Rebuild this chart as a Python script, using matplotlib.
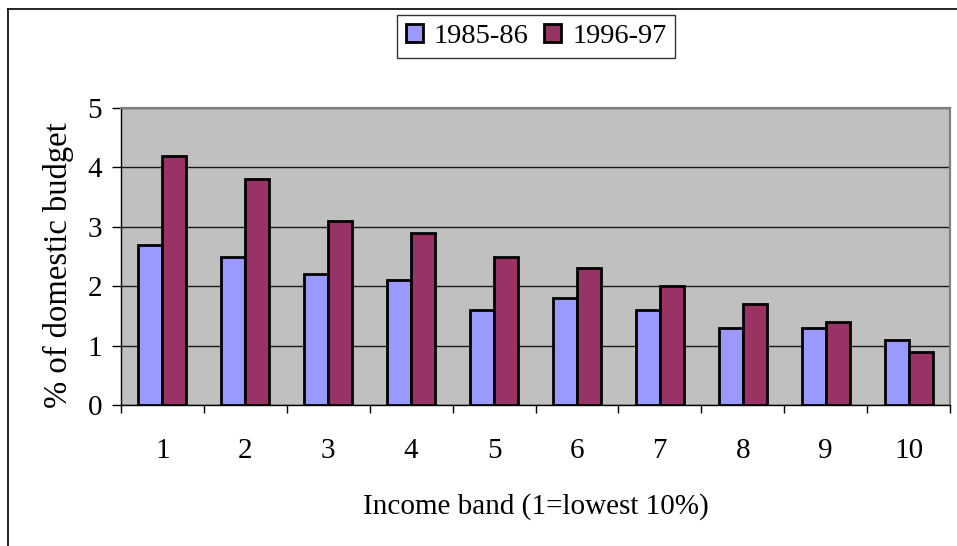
import matplotlib
matplotlib.use("Agg")
import matplotlib.pyplot as plt
import numpy as np
from matplotlib.lines import Line2D

categories = ["1", "2", "3", "4", "5", "6", "7", "8", "9", "10"]
series_1985 = [2.7, 2.5, 2.2, 2.1, 1.6, 1.8, 1.6, 1.3, 1.3, 1.1]
series_1996 = [4.2, 3.8, 3.1, 2.9, 2.5, 2.3, 2.0, 1.7, 1.4, 0.9]
labels = ["1985-86", "1996-97"]

plt.rcParams['font.family'] = ['Liberation Serif', 'DejaVu Serif']
FS = 21
W, H = 957, 546

fig = plt.figure(figsize=(W/100, H/100), dpi=100)
ax = fig.add_axes([121/W, 1-405/H, 829/W, 297/H])
ax.set_facecolor("#C0C0C0")

x = np.arange(len(categories))
w = 0.29
ax.bar(x - w/2, series_1985, w, color="#9999FF", edgecolor="black", linewidth=2.0, label=labels[0], zorder=3)
ax.bar(x + w/2, series_1996, w, color="#993366", edgecolor="black", linewidth=2.0, label=labels[1], zorder=3)

ax.set_xlim(-0.5, len(categories) - 0.5)
ax.set_ylim(0, 5)
ax.set_yticks(range(0, 6))
ax.yaxis.grid(True, color="#1a1a1a", linewidth=1.0, zorder=1)
ax.set_axisbelow(True)

ax.set_xticks(x)
ax.set_xticklabels(categories)
ax.set_xticks(np.arange(-0.5, len(categories), 1), minor=True)
ax.tick_params(axis="x", which="major", length=0, pad=24, labelsize=FS)
ax.tick_params(axis="x", which="minor", length=6, width=1, direction="out")
ax.tick_params(axis="y", length=6.5, width=1, direction="out", labelsize=FS, pad=7)

for s in ["top", "right"]:
    ax.spines[s].set_color("#808080")
    ax.spines[s].set_linewidth(1.6)
for s in ["left", "bottom"]:
    ax.spines[s].set_color("black")
    ax.spines[s].set_linewidth(1.0)

ax.set_ylabel("% of domestic budget", fontsize=23.5)
ax.yaxis.set_label_coords(58/W, 1-265/H, transform=fig.transFigure)
ax.set_xlabel("Income band (1=lowest 10%)", fontsize=FS)
ax.xaxis.set_label_coords(536/W, 1-507/H, transform=fig.transFigure)
ax.xaxis.label.set_va("center")
ax.yaxis.label.set_va("center")

leg = fig.legend(loc="center", bbox_to_anchor=(536/W, 1-36.5/H), ncol=2, fontsize=20.5,
                 frameon=True, fancybox=False, edgecolor="black", handlelength=0.6,
                 handleheight=0.62, handletextpad=0.38, columnspacing=0.56, borderpad=0.3)
leg.get_frame().set_linewidth(1.0)

fig.add_artist(Line2D([8/W, 8/W], [0, 1-9/H], transform=fig.transFigure, color="black", linewidth=1.2))
fig.add_artist(Line2D([8/W, 1], [1-9/H, 1-9/H], transform=fig.transFigure, color="black", linewidth=1.2))

fig.savefig("out.png", dpi=100)
